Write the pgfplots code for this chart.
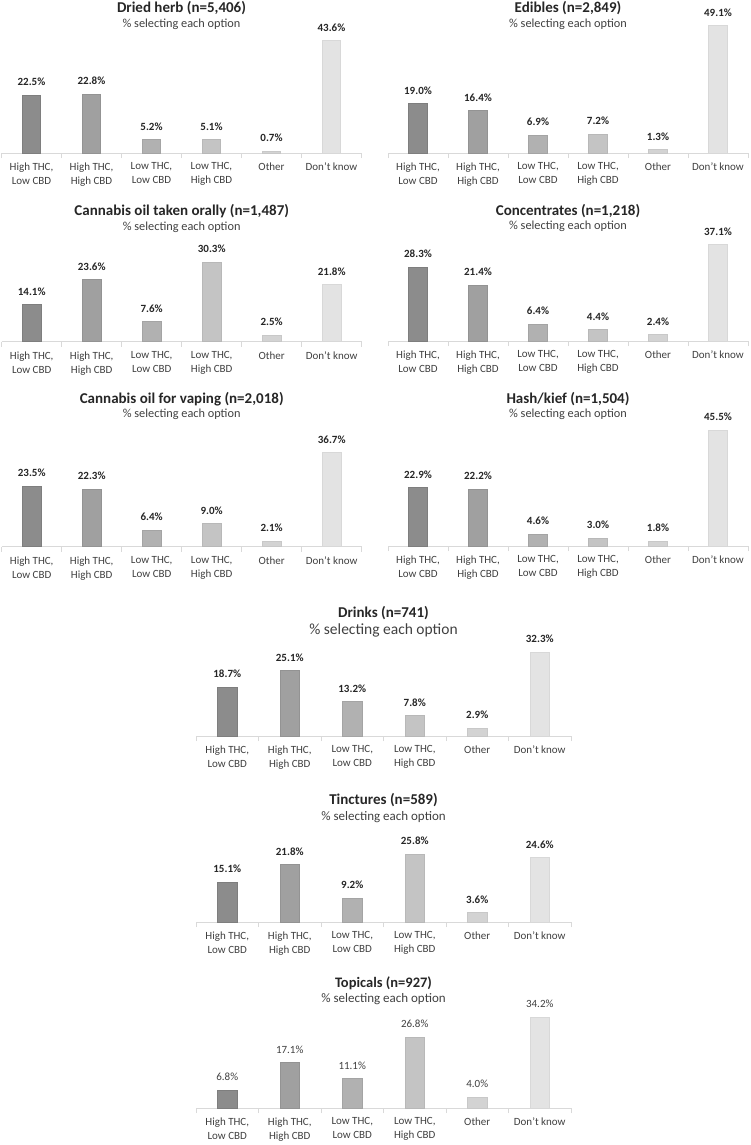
\documentclass[border=0pt]{standalone}
\usepackage{pgfplots}
\pgfplotsset{compat=1.18}
\usepackage{fontspec}
\setmainfont{Carlito}

\definecolor{cA}{HTML}{8C8C8C}\definecolor{cAd}{HTML}{7E7E7E}
\definecolor{cB}{HTML}{A0A0A0}\definecolor{cBd}{HTML}{939393}
\definecolor{cC}{HTML}{B1B1B1}\definecolor{cCd}{HTML}{A4A4A4}
\definecolor{cD}{HTML}{C4C4C4}\definecolor{cDd}{HTML}{B8B8B8}
\definecolor{cE}{HTML}{D3D3D3}\definecolor{cEd}{HTML}{C8C8C8}
\definecolor{cF}{HTML}{E3E3E3}\definecolor{cFd}{HTML}{D8D8D8}
\definecolor{axisgray}{HTML}{D9D9D9}
\definecolor{txt}{HTML}{262626}
\definecolor{ticktxt}{HTML}{404040}

\pgfplotsset{
  panel/.style={
    scale only axis,
    xmin=-0.5, xmax=5.5, ymin=0, ymax=50,
    axis y line=none,
    axis x line*=bottom,
    x axis line style={draw=axisgray, line width=1pt, -},
    xtick={0,...,5},
    xticklabels={{High THC,\\Low CBD},{High THC,\\High CBD},{Low THC,\\Low CBD},{Low THC,\\High CBD},Other,Don’t know},
    major tick length=0pt,
    minor xtick={-0.5,0.5,...,5.5},
    minor tick length=5pt,
    tick align=outside,
    minor tick style={draw=axisgray, line width=1pt},
    xticklabel style={font=\fontsize{11}{14}\selectfont, text=ticktxt, align=center, inner sep=0pt, anchor=north, yshift=-9.5pt},
    bar width=0.31,
    clip=false,
    cycle list={
      {ybar,fill=cA,draw=cAd},{ybar,fill=cB,draw=cBd},{ybar,fill=cC,draw=cCd},
      {ybar,fill=cD,draw=cDd},{ybar,fill=cE,draw=cEd},{ybar,fill=cF,draw=cFd}},
    every axis plot post/.append style={/pgf/bar shift=0pt, line width=0.8pt},
    /pgf/number format/assume math mode=true,
    nodes near coords={\pgfmathprintnumber[fixed,fixed zerofill,precision=1]{\pgfplotspointmeta}\%},
    nodes near coords align=vertical,
    every node near coord/.append style={font=\bfseries\fontsize{11}{13}\selectfont, text=txt, inner sep=0pt, anchor=south, yshift=9pt},
  },
}
\tikzset{
  ptitle/.style={anchor=base, font=\bfseries\fontsize{15}{18}\selectfont, text=txt},
  psub/.style={anchor=base, font=\fontsize{12.3}{15}\selectfont, text=ticktxt},
}

\begin{document}
\begin{tikzpicture}[x=1pt,y=1pt]
\path[use as bounding box] (0,0) rectangle (750,-1145);

% Dried herb
\begin{axis}[panel, at={(1.5pt,-153pt)}, anchor=south west, width=360pt, height=129pt]
\addplot coordinates {(0,22.5)};
\addplot coordinates {(1,22.8)};
\addplot coordinates {(2,5.2)};
\addplot coordinates {(3,5.1)};
\addplot coordinates {(4,0.7)};
\addplot coordinates {(5,43.6)};
\end{axis}
\node[ptitle] at (181.5,-12.7) {Dried herb (n=5,406)};
\node[psub] at (181.5,-27.3) {\% selecting each option};

% Edibles
\begin{axis}[panel, at={(388pt,-153pt)}, anchor=south west, width=360pt, height=129.5pt]
\addplot coordinates {(0,19.0)};
\addplot coordinates {(1,16.4)};
\addplot coordinates {(2,6.9)};
\addplot coordinates {(3,7.2)};
\addplot coordinates {(4,1.3)};
\addplot coordinates {(5,49.1)};
\end{axis}
\node[ptitle] at (568,-12.7) {Edibles (n=2,849)};
\node[psub] at (568,-27.3) {\% selecting each option};

% Cannabis oil taken orally
\begin{axis}[panel, at={(1.7pt,-341.7pt)}, anchor=south west, width=360pt, height=131pt]
\addplot coordinates {(0,14.1)};
\addplot coordinates {(1,23.6)};
\addplot coordinates {(2,7.6)};
\addplot coordinates {(3,30.3)};
\addplot coordinates {(4,2.5)};
\addplot coordinates {(5,21.8)};
\end{axis}
\node[ptitle] at (181.7,-215.7) {Cannabis oil taken orally (n=1,487)};
\node[psub] at (181.7,-230) {\% selecting each option};

% Concentrates
\begin{axis}[panel, at={(388pt,-341pt)}, anchor=south west, width=360pt, height=130pt]
\addplot coordinates {(0,28.3)};
\addplot coordinates {(1,21.4)};
\addplot coordinates {(2,6.4)};
\addplot coordinates {(3,4.4)};
\addplot coordinates {(4,2.4)};
\addplot coordinates {(5,37.1)};
\end{axis}
\node[ptitle] at (568,-215) {Concentrates (n=1,218)};
\node[psub] at (568,-229.3) {\% selecting each option};

% Cannabis oil for vaping
\begin{axis}[panel, at={(1.7pt,-546.7pt)}, anchor=south west, width=360pt, height=128.3pt]
\addplot coordinates {(0,23.5)};
\addplot coordinates {(1,22.3)};
\addplot coordinates {(2,6.4)};
\addplot coordinates {(3,9.0)};
\addplot coordinates {(4,2.1)};
\addplot coordinates {(5,36.7)};
\end{axis}
\node[ptitle] at (181.7,-403.3) {Cannabis oil for vaping (n=2,018)};
\node[psub] at (181.7,-417.7) {\% selecting each option};

% Hash/kief
\begin{axis}[panel, at={(388pt,-546pt)}, anchor=south west, width=360pt, height=127.5pt]
\addplot coordinates {(0,22.9)};
\addplot coordinates {(1,22.2)};
\addplot coordinates {(2,4.6)};
\addplot coordinates {(3,3.0)};
\addplot coordinates {(4,1.8)};
\addplot coordinates {(5,45.5)};
\end{axis}
\node[ptitle] at (568,-403.3) {Hash/kief (n=1,504)};
\node[psub] at (568,-417.7) {\% selecting each option};

% Drinks
\begin{axis}[panel, at={(196pt,-736pt)}, anchor=south west, width=375pt, height=130pt]
\addplot coordinates {(0,18.7)};
\addplot coordinates {(1,25.1)};
\addplot coordinates {(2,13.2)};
\addplot coordinates {(3,7.8)};
\addplot coordinates {(4,2.9)};
\addplot coordinates {(5,32.3)};
\end{axis}
\node[ptitle] at (383.5,-617.3) {Drinks (n=741)};
\node[psub, font=\fontsize{15.5}{18}\selectfont] at (383.5,-634) {\% selecting each option};

% Tinctures
\begin{axis}[panel, at={(196pt,-922pt)}, anchor=south west, width=375pt, height=131pt]
\addplot coordinates {(0,15.1)};
\addplot coordinates {(1,21.8)};
\addplot coordinates {(2,9.2)};
\addplot coordinates {(3,25.8)};
\addplot coordinates {(4,3.6)};
\addplot coordinates {(5,24.6)};
\end{axis}
\node[ptitle] at (383.5,-804) {Tinctures (n=589)};
\node[psub, font=\fontsize{13}{16}\selectfont] at (383.5,-820) {\% selecting each option};

% Topicals
\begin{axis}[panel, at={(196pt,-1108pt)}, anchor=south west, width=375pt, height=132.5pt,
  every node near coord/.append style={font=\fontsize{11}{13}\selectfont, text=ticktxt}]
\addplot coordinates {(0,6.8)};
\addplot coordinates {(1,17.1)};
\addplot coordinates {(2,11.1)};
\addplot coordinates {(3,26.8)};
\addplot coordinates {(4,4.0)};
\addplot coordinates {(5,34.2)};
\end{axis}
\node[ptitle, font=\bfseries\fontsize{14.5}{18}\selectfont] at (383.5,-987.7) {Topicals (n=927)};
\node[psub, font=\fontsize{13}{16}\selectfont] at (383.5,-1002.7) {\% selecting each option};
\end{tikzpicture}
\end{document}
